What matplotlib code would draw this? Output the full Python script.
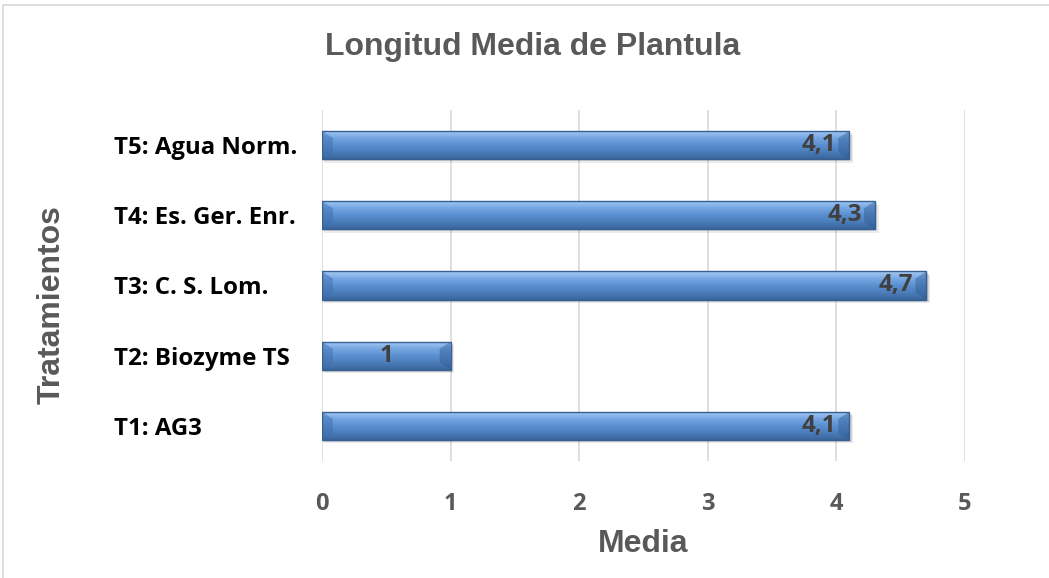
import matplotlib.pyplot as plt
import numpy as np
from matplotlib.patches import Rectangle, Polygon
from matplotlib.colors import LinearSegmentedColormap

tratamientos = ['T1: AG3', 'T2: Biozyme TS', 'T3: C. S. Lom.',
                'T4: Es. Ger. Enr.', 'T5: Agua Norm.']
media = [4.1, 1.0, 4.7, 4.3, 4.1]
etiquetas = ['4,1', '1', '4,7', '4,3', '4,1']
ticks_x = [0, 1, 2, 3, 4, 5]

gris = '#595959'
fuente_tit = ['Liberation Sans', 'DejaVu Sans']
fuente_eje = ['Open Sans', 'DejaVu Sans']

fig = plt.figure(figsize=(10.49, 5.78), dpi=100)
ax = fig.add_axes([322 / 1049, 1 - 461 / 578, 643 / 1049, 351 / 578])

# marco exterior del grafico
fig.patches.append(Rectangle((3 / 1049, -0.01), 1.0, 1 - 5 / 578 + 0.01,
                             transform=fig.transFigure, fill=False,
                             edgecolor='#D9D9D9', linewidth=1.2))

y = np.arange(len(tratamientos))
alto = 0.4
bars = ax.barh(y, media, height=alto, color='none', edgecolor='none', zorder=3)

# degradado vertical del relleno de las barras
cmap = LinearSegmentedColormap.from_list(
    'azul', ['#3A659B', '#4B7DBA', '#5B90D1', '#78A8E4', '#A6CBF3'])
grad = np.linspace(0, 1, 64).reshape(-1, 1)

bisel = 0.085  # ancho del bisel en unidades de datos
for b in bars:
    x0, y0 = b.get_x(), b.get_y()
    w, h = b.get_width(), b.get_height()
    # sombra
    for k, a in [(0.05, 0.08), (0.03, 0.10), (0.015, 0.12)]:
        ax.add_patch(Rectangle((x0 + k * 0.3, y0 - k), w + k * 0.3, h,
                               facecolor='black', alpha=a, edgecolor='none',
                               zorder=2))
    im = ax.imshow(grad, cmap=cmap, aspect='auto', origin='lower',
                   extent=[x0, x0 + w, y0, y0 + h], zorder=4,
                   interpolation='bilinear')
    clip = Rectangle((x0, y0), w, h, transform=ax.transData)
    im.set_clip_path(clip)
    # biseles en los extremos
    bh = h * 0.25
    ax.add_patch(Polygon([(x0, y0 + h), (x0 + bisel, y0 + h - bh),
                          (x0 + bisel, y0 + bh), (x0, y0)],
                         closed=True, facecolor='#3F6FAE', alpha=0.5,
                         edgecolor='none', zorder=5))
    ax.add_patch(Polygon([(x0 + w, y0 + h), (x0 + w - bisel, y0 + h - bh),
                          (x0 + w - bisel, y0 + bh), (x0 + w, y0)],
                         closed=True, facecolor='#2F5A92', alpha=0.45,
                         edgecolor='none', zorder=5))
    ax.add_patch(Rectangle((x0, y0), w, h, fill=False, edgecolor='#365F93',
                           linewidth=1.0, zorder=6))

# etiquetas de datos
for b, v, t in zip(bars, media, etiquetas):
    cy = b.get_y() + b.get_height() / 2
    if v < 2:
        ax.text(v / 2, cy, t, ha='center', va='center', fontsize=17.5,
                fontweight='bold', color='#404040', family=fuente_eje,
                zorder=7)
    else:
        ax.text(v - 0.1, cy, t, ha='right', va='center', fontsize=17.5,
                fontweight='bold', color='#404040', family=fuente_eje,
                zorder=7)

ax.set_xlim(0, 5)
ax.set_ylim(-0.5, len(tratamientos) - 0.5)
ax.set_xticks(ticks_x)
ax.set_xticklabels([str(t) for t in ticks_x], fontsize=17, fontweight='bold',
                   color=gris, family=fuente_eje)
ax.set_yticks(y)
ax.set_yticklabels(tratamientos, fontsize=17.3, fontweight='bold',
                   color='black', family=fuente_eje, ha='left')
ax.tick_params(axis='y', length=0, pad=150)
ax.tick_params(axis='x', length=0, pad=22)
ax.grid(axis='x', color='#D9D9D9', linewidth=1.2, zorder=0)
ax.set_axisbelow(True)
for s in ax.spines.values():
    s.set_visible(False)

ax.set_xlabel('Media', fontsize=23, fontweight='bold', color=gris,
              family=fuente_tit, labelpad=10)
fig.text(52 / 1049, 1 - 305 / 578, 'Tratamientos', rotation=90, ha='center',
         va='center', fontsize=23, fontweight='bold', color=gris,
         family=fuente_tit)
fig.text(533 / 1049, 1 - 47 / 578, 'Longitud Media de Plantula', ha='center',
         va='center', fontsize=23, fontweight='bold', color=gris,
         family=fuente_tit)

fig.savefig('out.png', dpi=100)
